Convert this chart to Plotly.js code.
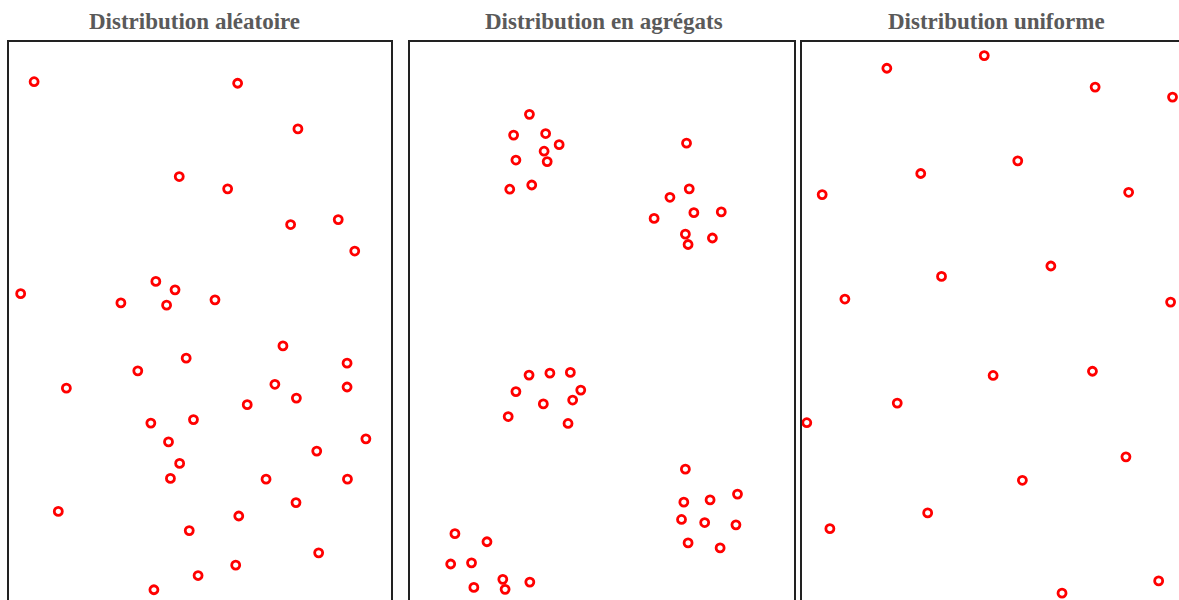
<!DOCTYPE html>
<html>
<head>
<meta charset="utf-8">
<script src="https://cdn.plot.ly/plotly-3.0.1.min.js"></script>
<style>html,body{margin:0;padding:0;background:#fff;}#chart{width:1179px;height:600px;}</style>
</head>
<body>
<div id="chart"></div>
<script>
// Panel titles
const panelTitles = ["Distribution aléatoire", "Distribution en agrégats", "Distribution uniforme"];

// Random distribution (field units)
const randomX = [0.68,5.98,7.55,4.46,5.72,7.36,8.60,9.03,0.33,3.85,4.35,2.94,4.13,5.39,7.16,4.64,8.83,3.38,1.52,6.95,8.83,7.51,6.23,4.83,3.72,9.32,4.18,8.04,4.47,4.23,6.72,8.84,7.50,1.31,6.01,4.72,8.09,5.93,4.95,3.80];
const randomY = [13.94,13.90,12.71,11.47,11.15,10.22,10.35,9.53,8.42,8.74,8.52,8.18,8.12,8.26,7.06,6.74,6.61,6.41,5.96,6.06,5.99,5.70,5.53,5.14,5.05,4.64,4.56,4.32,4.00,3.61,3.59,3.59,2.98,2.75,2.63,2.25,1.67,1.35,1.08,0.71];

// Clumped distribution
const clumpX = [3.12,2.71,3.54,3.89,3.50,2.77,3.58,3.18,2.61,
                7.19,7.26,6.76,8.09,7.38,6.35,7.16,7.86,7.23,
                3.11,3.65,4.18,2.77,4.45,4.24,3.48,2.57,4.12,
                7.16,8.51,7.80,7.12,7.06,7.66,8.47,7.23,8.06,
                1.19,2.02,1.08,1.62,2.43,3.13,1.68,2.49];
const clumpY = [13.09,12.55,12.59,12.30,12.13,11.90,11.86,11.25,11.14,
                12.34,11.15,10.93,10.55,10.53,10.38,9.97,9.87,9.70,
                6.30,6.35,6.37,5.87,5.91,5.65,5.55,5.22,5.04,
                3.85,3.20,3.05,2.99,2.54,2.46,2.40,1.93,1.80,
                2.17,1.96,1.38,1.41,0.98,0.91,0.77,0.72];

// Uniform distribution
const uniformX = [2.23,4.76,7.64,9.65,5.63,3.11,0.55,8.51,6.49,3.65,1.14,9.60,4.99,7.57,2.50,0.15,8.44,5.75,3.29,0.75,9.29,6.78];
const uniformY = [14.29,14.62,13.80,13.54,11.88,11.55,11.00,11.06,9.14,8.87,8.28,8.20,6.29,6.40,5.57,5.06,4.17,3.56,2.71,2.30,0.94,0.62];

const W = 1179, H = 600;
const topPx = 41;
const yDomTop = 1 - topPx / H;
const yRange = [15 - (H - topPx) / 38.4, 15];

const panels = [
  {left: 8, right: 392, xr: [0, 10], xs: randomX, ys: randomY, tc: 194},
  {left: 409, right: 795, xr: [0, 10], xs: clumpX, ys: clumpY, tc: 604},
  {left: 801, right: 1179, xr: [0, 378 / 38.5], xs: uniformX, ys: uniformY, tc: 996}
];

const data = [];
const layout = {
  width: W, height: H,
  margin: {l: 0, r: 0, t: 0, b: 0},
  paper_bgcolor: '#fff', plot_bgcolor: '#fff',
  showlegend: false,
  shapes: [], annotations: []
};

panels.forEach((p, i) => {
  const n = i === 0 ? '' : String(i + 1);
  const xa = 'xaxis' + n, ya = 'yaxis' + n;
  const axCommon = {showgrid: false, zeroline: false, showticklabels: false, ticks: '', showline: false, fixedrange: true};
  layout[xa] = Object.assign({}, axCommon, {domain: [p.left / W, p.right / W], range: p.xr, anchor: 'y' + n});
  layout[ya] = Object.assign({}, axCommon, {domain: [0, yDomTop], range: yRange, anchor: 'x' + n});
  data.push({
    type: 'scatter', mode: 'markers',
    x: p.xs, y: p.ys,
    xaxis: 'x' + n, yaxis: 'y' + n,
    cliponaxis: false,
    marker: {symbol: 'circle-open', size: 8, color: '#ff0000', line: {width: 2.8, color: '#ff0000'}},
    hoverinfo: 'skip'
  });
  const x1 = (i === 2) ? 1.05 : 1;
  layout.shapes.push({
    type: 'rect', xref: 'x' + n + ' domain', yref: 'y' + n + ' domain',
    x0: 0, x1: x1, y0: -0.1, y1: 1,
    line: {color: '#222', width: 2}, fillcolor: 'rgba(0,0,0,0)'
  });
  layout.annotations.push({
    text: panelTitles[i], xref: 'paper', yref: 'paper',
    x: p.tc / W, y: 1 - 21 / H, xanchor: 'center', yanchor: 'middle',
    showarrow: false,
    font: {family: '"Liberation Serif", "Times New Roman", serif', size: 23, color: '#5a5a5a', weight: 'bold'}
  });
});

Plotly.newPlot('chart', data, layout, {staticPlot: true, displayModeBar: false});
</script>
</body>
</html>
